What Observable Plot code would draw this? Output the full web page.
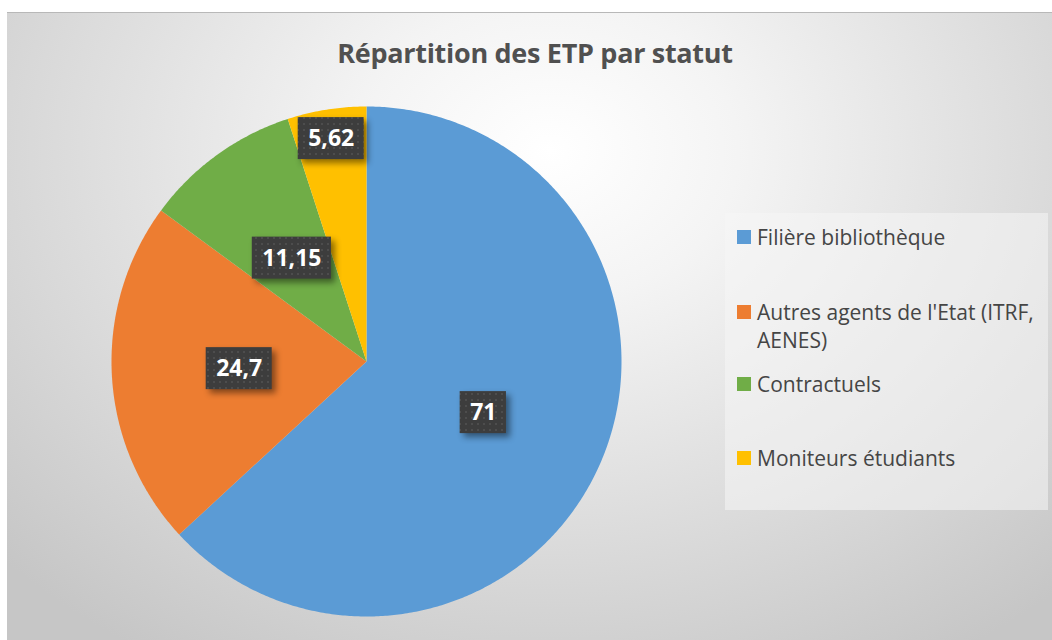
<!DOCTYPE html>
<html>
<head>
<meta charset="utf-8">
<script src="https://cdn.jsdelivr.net/npm/d3@7"></script>
<script src="https://cdn.jsdelivr.net/npm/@observablehq/plot@0.6"></script>
<style>
  html, body { margin: 0; padding: 0; background: #ffffff; width: 1052px; height: 640px; overflow: hidden; }
  #chart {
    position: absolute; left: 7px; top: 12px; width: 1045px; height: 628px;
    background: radial-gradient(ellipse 72% 95% at 52% 22%, #ffffff 0%, #f4f4f4 25%, #c6c6c6 100%);
    border-top: 1px solid #b8b8b8; box-sizing: border-box;
    font-family: "Open Sans", sans-serif;
  }
  #title {
    position: absolute; left: 0; width: 1056px; top: 21px; text-align: center;
    font-size: 27px; font-weight: bold; color: #505050; letter-spacing: -0.3px;
  }
  #plot { position: absolute; left: 0; top: 0; }
  #legend {
    position: absolute; left: 718px; top: 200px; width: 323px; height: 297px;
    background: rgba(245,245,245,0.55);
  }
  .item { position: absolute; left: 12px; font-size: 21px; color: #454545; line-height: 28px; }
  .sw { position: absolute; left: 0; top: 7px; width: 14px; height: 14px; }
  .lbl { position: absolute; left: 20px; width: 292px; white-space: normal; }
</style>
</head>
<body>
<div id="chart">
  <div id="title"></div>
  <div id="plot"></div>
  <div id="legend"></div>
</div>
<script>
const title = "Répartition des ETP par statut";
const categories = ["Filière bibliothèque", "Autres agents de l'Etat (ITRF, AENES)", "Contractuels", "Moniteurs étudiants"];
const values = [71, 24.7, 11.15, 5.62];
const valueLabels = ["71", "24,7", "11,15", "5,62"];
const colors = ["#5B9BD5", "#ED7D31", "#70AD47", "#FFC000"];

document.getElementById("title").textContent = title;

// pie geometry (angles clockwise from 12 o'clock)
const arcs = d3.pie().sort(null).value(d => d.value)(categories.map((name, i) => ({name, value: values[i], label: valueLabels[i]})));
const pts = [];
for (const a of arcs) {
  pts.push({name: a.data.name, x: 0, y: 0});
  const n = Math.max(2, Math.ceil((a.endAngle - a.startAngle) / (Math.PI / 360)));
  for (let k = 0; k <= n; k++) {
    const t = a.startAngle + (a.endAngle - a.startAngle) * k / n;
    pts.push({name: a.data.name, x: Math.sin(t), y: Math.cos(t)});
  }
}

// label boxes
const R = 255; // pixels per data unit (radius)
const fontSpec = "bold 23px 'Open Sans'";
const ctx = document.createElement("canvas").getContext("2d");
ctx.font = fontSpec;
const labelData = arcs.map(a => {
  const mid = (a.startAngle + a.endAngle) / 2;
  const small = (a.endAngle - a.startAngle) < Math.PI / 9;
  const rr = small ? 0.885 : 0.5;
  const cx = rr * Math.sin(mid), cy = rr * Math.cos(mid);
  const w = ctx.measureText(a.data.label).width + 20;
  const h = 42;
  return {label: a.data.label, cx, cy,
    x1: cx - w / 2 / R, x2: cx + w / 2 / R, y1: cy - h / 2 / R, y2: cy + h / 2 / R};
});

const cx0 = 359, cy0 = 348;
const plot = Plot.plot({
  width: 1045, height: 628, margin: 0,
  x: {domain: [-1, 1], range: [cx0 - R, cx0 + R], axis: null},
  y: {domain: [-1, 1], range: [cy0 + R, cy0 - R], axis: null},
  color: {domain: categories, range: colors},
  style: {background: "transparent", overflow: "visible"},
  marks: [
    Plot.line(pts, {x: "x", y: "y", z: "name", fill: "name", stroke: "none", curve: "linear-closed"}),
    Plot.rect(labelData, {x1: "x1", x2: "x2", y1: "y1", y2: "y2", fill: "#3f3f3f"}),
    Plot.text(labelData, {x: "cx", y: "cy", text: "label", fill: "white", fontSize: 23, fontWeight: "bold", fontFamily: "Open Sans"})
  ]
});
document.getElementById("plot").appendChild(plot);

// dotted pattern + shadow for label boxes
const svg = d3.select(plot);
const defs = svg.insert("defs", ":first-child");
const pat = defs.append("pattern").attr("id", "dots").attr("patternUnits", "userSpaceOnUse").attr("width", 6).attr("height", 6);
pat.append("rect").attr("width", 6).attr("height", 6).attr("fill", "#3d3d3d");
pat.append("rect").attr("x", 2).attr("y", 2).attr("width", 2).attr("height", 2).attr("fill", "#4d4d4d");
svg.selectAll("g[aria-label=rect] rect").attr("fill", "url(#dots)")
  .style("filter", "drop-shadow(4px 4px 3px rgba(0,0,0,0.45))");

// legend
const legendTops = [10, 85, 157, 231];
const legend = d3.select("#legend");
categories.forEach((c, i) => {
  const it = legend.append("div").attr("class", "item").style("top", legendTops[i] + "px");
  it.append("div").attr("class", "sw").style("background", colors[i]);
  it.append("div").attr("class", "lbl").text(c);
});
</script>
</body>
</html>
